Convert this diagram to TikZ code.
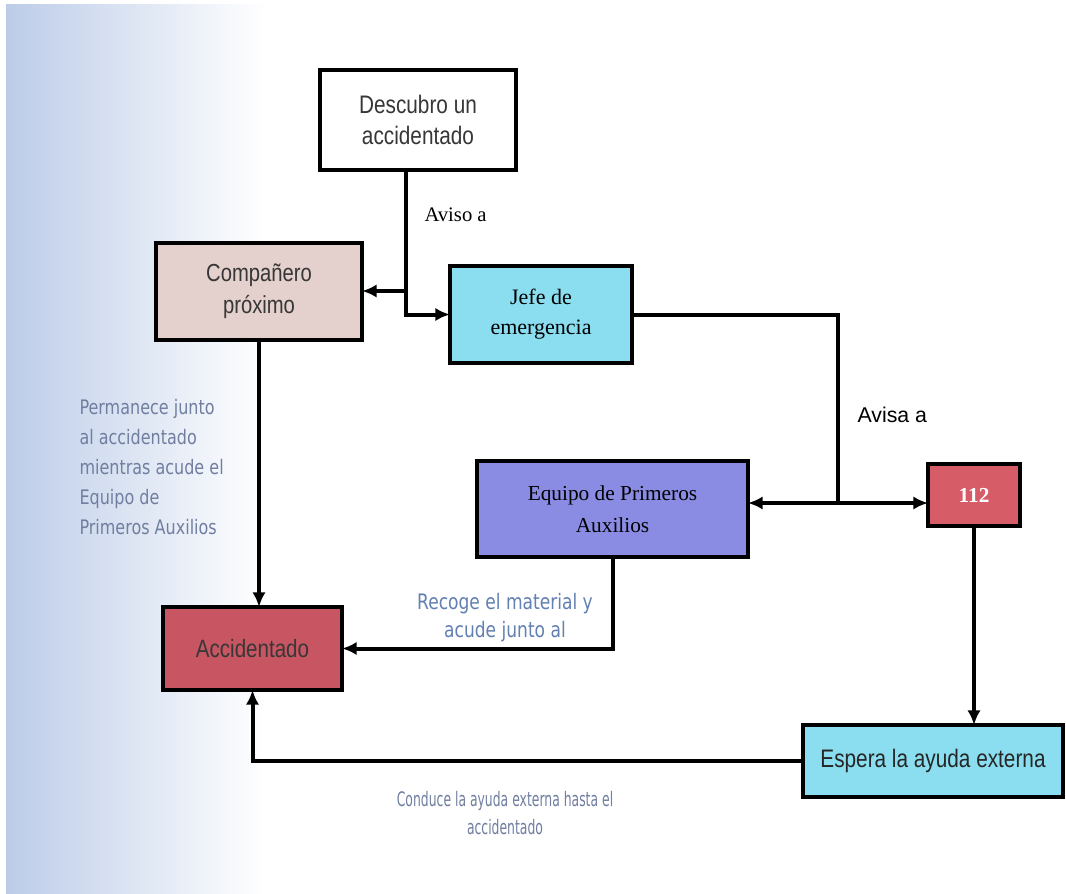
\documentclass[tikz,border=0pt]{standalone}
\usepackage{fontspec}
\usetikzlibrary{arrows.meta}
\setmainfont{Liberation Serif}
\newfontfamily\narrowsans[FakeStretch=0.82]{Liberation Sans}
\newfontfamily\plainsans{Liberation Sans}
\newfontfamily\notesans[FakeStretch=0.8]{DejaVu Sans}
\newfontfamily\condsans[FakeStretch=0.62]{DejaVu Sans}
\definecolor{beige}{RGB}{228,208,204}
\definecolor{skyblue}{RGB}{138,222,240}
\definecolor{lavender}{RGB}{138,140,228}
\definecolor{rose}{RGB}{214,92,104}
\definecolor{crimson}{RGB}{200,86,98}
\definecolor{notegray}{RGB}{112,126,160}
\definecolor{noteblue}{RGB}{98,128,178}
\definecolor{bgblue}{RGB}{188,204,232}
\definecolor{textgray}{RGB}{55,55,55}
\tikzset{every picture/.style={line width=0.75pt}}
\tikzset{
  box/.style={draw=black, line width=2.5pt, align=center, inner sep=0pt, outer sep=0pt},
  link/.style={draw=black, line width=3pt},
  tip/.style={-{Latex[length=11pt,width=10pt]}},
  note/.style={align=left, inner sep=0.75pt, text=notegray, font=\notesans\fontsize{15}{22.5}\selectfont}
}

\begin{document}
\begin{tikzpicture}[x=0.75pt,y=0.75pt,yscale=-1,xscale=1]
\useasboundingbox (0,0) rectangle (1066,893);

%Background
\fill [white] (0,0) rectangle (1066,893);
\shade [left color=bgblue, middle color=bgblue!85!white, right color=white] (6,4) rectangle (265,893);

%Shape: Rectangle
\node [box, fill=white, minimum width=147pt, minimum height=75pt, text=textgray, font=\narrowsans\fontsize{19}{23}\selectfont] (descubro) at (418,120) {Descubro un\\accidentado};
%Shape: Rectangle
\node [box, fill=beige, minimum width=154.5pt, minimum height=72.75pt, text=textgray, font=\narrowsans\fontsize{18.5}{24}\selectfont] (companero) at (259,291.5) {Compañero\\próximo};
%Shape: Rectangle
\node [box, fill=skyblue, minimum width=136.5pt, minimum height=72.75pt, font=\fontsize{16.5}{22.5}\selectfont] (jefe) at (541,314.5) {Jefe de\\emergencia};
%Shape: Rectangle
\node [box, fill=lavender, minimum width=203.25pt, minimum height=72pt, font=\fontsize{16}{24}\selectfont] (equipo) at (612.5,509) {Equipo de Primeros\\Auxilios};
%Shape: Rectangle
\node [box, fill=rose, minimum width=69pt, minimum height=46.5pt, text=white, font=\bfseries\fontsize{16}{18}\selectfont] (ayuda112) at (974,495) {112};
%Shape: Rectangle
\node [box, fill=crimson, minimum width=134.25pt, minimum height=62.25pt, text=textgray, font=\narrowsans\fontsize{18.8}{22}\selectfont] (accidentado) at (252.5,648.5) {Accidentado};
%Shape: Rectangle
\node [box, fill=skyblue, minimum width=195pt, minimum height=54pt, text=black!85, font=\narrowsans\fontsize{19}{22}\selectfont] (espera) at (933,761) {Espera la ayuda externa};

%Straight Lines
\coordinate (fork) at (406,291);
\coordinate (junction) at (838,503);
\draw [link, tip] (descubro.south -| fork) |- (jefe.west);
\draw [link, tip] (fork) -- (companero.east |- fork);
\draw [link] (jefe.east) -| (junction);
\draw [link, {Latex[length=11pt,width=10pt]}-{Latex[length=11pt,width=10pt]}] (equipo.east |- junction) -- (ayuda112.west |- junction);
\draw [link, tip] (companero.south) -- (companero.south |- accidentado.north);
\draw [link, tip] (equipo.south) |- (accidentado.east);
\draw [link, tip] (ayuda112.south) -- (ayuda112.south |- espera.north);
\draw [link, tip] (espera.west) -| (accidentado.south);

% Text Node
\node [anchor=west, inner sep=0.75pt, font=\fontsize{15.5}{18}\selectfont] (avisoa) at (423,215) {Aviso a};
% Text Node
\node [anchor=west, inner sep=0.75pt, font=\plainsans\fontsize{16}{18}\selectfont] (avisaa) at (856,415) {Avisa a};
% Text Node
\node [note, anchor=north west] (permanece) at (78,398) {Permanece junto\\al accidentado\\mientras acude el\\Equipo de\\Primeros Auxilios};
% Text Node
\node [note, align=center, text=noteblue, font=\notesans\fontsize{16}{21}\selectfont] (recoge) at (505,618) {Recoge el material y\\acude junto al};
% Text Node
\node [note, align=center, font=\condsans\fontsize{15}{21}\selectfont] (conduce) at (505,813) {Conduce la ayuda externa hasta el\\accidentado};

\end{tikzpicture}
\end{document}
